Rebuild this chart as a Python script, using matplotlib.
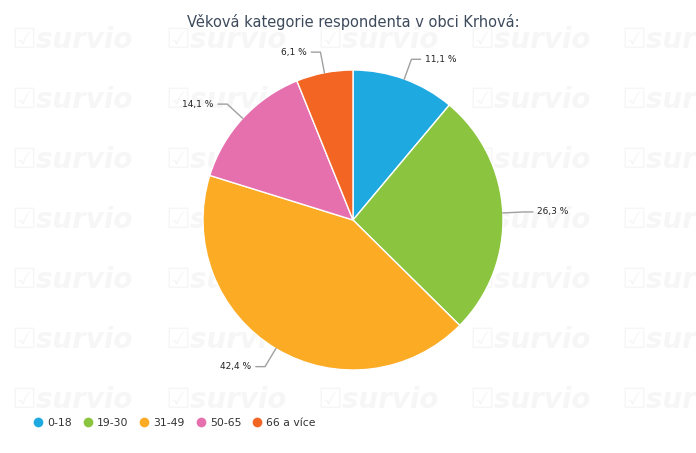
import numpy as np
import matplotlib
matplotlib.use("Agg")
import matplotlib.pyplot as plt
from matplotlib.lines import Line2D

title = "Věková kategorie respondenta v obci Krhová:"
categories = ["0-18", "19-30", "31-49", "50-65", "66 a více"]
values = [11.1, 26.3, 42.4, 14.1, 6.1]
labels = ["11,1 %", "26,3 %", "42,4 %", "14,1 %", "6,1 %"]
colors = ["#1eaae1", "#8bc53f", "#fbab24", "#e66fad", "#f26522"]

W, H = 696, 453
fig = plt.figure(figsize=(W / 100, H / 100), dpi=100)
fig.patch.set_facecolor("white")

# watermark (background layer)
bg = fig.add_axes([0, 0, 1, 1], zorder=-5)
bg.set_xlim(0, W)
bg.set_ylim(H, 0)
bg.axis("off")
wm_cols = [12, 165, 318, 470, 622]
wm_rows = [40, 100, 160, 220, 280, 340, 400]
for yy in wm_rows:
    for xx in wm_cols:
        bg.text(xx, yy, "☑survio", fontsize=20, fontweight="bold",
                fontstyle="italic", color="#f6f6f6", ha="left", va="center",
                clip_on=True)

fig.text(353 / W, 1 - 22 / H, title, fontsize=10.5, color="#3d4a5c",
         ha="center", va="center")

cx, cy, R = 353, 220, 150
ax = fig.add_axes([(cx - R) / W, (H - cy - R) / H, 2 * R / W, 2 * R / H], zorder=2)
ax.patch.set_alpha(0)

wedges, _ = ax.pie(values, colors=colors, startangle=90, counterclock=False,
                   radius=1, wedgeprops=dict(edgecolor="white", linewidth=1))
ax.set_xlim(-1, 1)
ax.set_ylim(-1, 1)
ax.axis("off")

total = sum(values)
cum = 0
for v, lab in zip(values, labels):
    mid = 90 - (cum + v / 2) / total * 360
    cum += v
    a = np.deg2rad(mid)
    x0, y0 = np.cos(a), np.sin(a)
    ex, ey = 1.14 * x0, 1.14 * y0
    side = 1 if x0 >= 0 else -1
    endx = ex + side * 0.06
    ax.plot([1.0 * x0, ex, endx], [1.0 * y0, ey, ey], color="#a0a0a0",
            lw=1, clip_on=False, solid_joinstyle="round")
    ax.text(endx + side * 0.03, ey, lab, fontsize=6.5, color="#222222",
            ha="left" if side > 0 else "right", va="center", clip_on=False)

handles = [Line2D([0], [0], marker="o", color="none", markerfacecolor=c,
                  markeredgecolor="none", markersize=7) for c in colors]
fig.legend(handles, categories, ncol=5, loc="center left",
           bbox_to_anchor=(0.035, 1 - 423 / H), frameon=False, fontsize=7.8,
           handletextpad=0.45, columnspacing=1.05, handlelength=0.8,
           labelcolor="#333333")

fig.savefig("out.png", dpi=100, facecolor="white")
